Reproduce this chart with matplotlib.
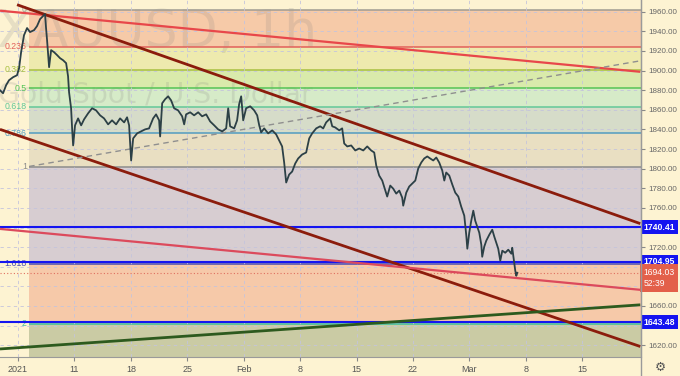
import matplotlib
matplotlib.use('Agg')
from matplotlib import pyplot as plt
from matplotlib.lines import Line2D

plt.rcParams['font.family'] = ['Liberation Sans', 'DejaVu Sans']

# XAUUSD 1h, x = trading days counted from Mon Jan 4 2021
days = [-1.60, -1.33, -1.06, -0.80, -0.44, -0.09, 0.09, 0.27, 0.53, 0.80, 1.06, 1.42, 1.68, 1.95,
        2.22, 2.39, 2.48, 2.57, 2.75, 2.93, 3.19, 3.46, 3.72, 3.99, 4.26, 4.43, 4.52, 4.70, 4.79,
        4.88, 5.05, 5.32, 5.59, 5.85, 6.21, 6.56, 6.91, 7.27, 7.62, 7.98, 8.33, 8.69, 9.04, 9.40,
        9.66, 9.84, 10.02, 10.20, 10.55, 10.90, 11.26, 11.61, 11.97, 12.23, 12.50, 12.59, 12.77,
        13.03, 13.30, 13.56, 13.83, 14.18, 14.54, 14.72, 14.89, 15.25, 15.60, 15.96, 16.31, 16.67,
        17.02, 17.38, 17.73, 18.09, 18.44, 18.62, 18.79, 19.15, 19.41, 19.59, 19.77, 19.95, 20.21,
        20.57, 20.92, 21.19, 21.37, 21.54, 21.81, 22.16, 22.52, 22.87, 23.14, 23.40, 23.58, 23.76,
        24.02, 24.29, 24.56, 24.82, 25.18, 25.53, 25.80, 26.06, 26.42, 26.77, 27.04, 27.30, 27.66,
        27.84, 28.10, 28.46, 28.72, 28.90, 29.17, 29.52, 29.88, 30.23, 30.59, 30.94, 31.29, 31.56,
        31.74, 32.00, 32.27, 32.54, 32.71, 32.98, 33.24, 33.51, 33.78, 34.04, 34.13, 34.40, 34.66,
        34.93, 35.20, 35.46, 35.73, 35.99, 36.26, 36.52, 36.79, 37.06, 37.32, 37.59, 37.77, 37.94,
        38.21, 38.48, 38.74, 39.01, 39.27, 39.54, 39.72, 39.81, 39.98, 40.16, 40.34, 40.51, 40.69,
        40.87, 41.05, 41.13, 41.31, 41.49, 41.76, 42.02, 42.20, 42.38, 42.55, 42.73, 42.91, 43.17,
        43.44, 43.71, 43.79, 43.97, 44.06, 44.15, 44.24]
price = [1880.0, 1876.9, 1885.1, 1890.2, 1893.3, 1895.3, 1902.5, 1918.8, 1936.2, 1943.4, 1939.3,
         1941.3, 1945.4, 1952.5, 1955.6, 1957.7, 1943.4, 1931.1, 1903.5, 1920.9, 1918.8, 1915.8,
         1912.7, 1910.6, 1907.6, 1894.3, 1877.9, 1861.6, 1841.1, 1823.7, 1844.2, 1851.3, 1844.2,
         1850.3, 1856.5, 1861.6, 1859.5, 1854.4, 1851.3, 1845.2, 1849.3, 1845.2, 1851.3, 1847.2,
         1852.4, 1844.2, 1808.4, 1830.9, 1836.0, 1838.0, 1840.1, 1841.1, 1851.3, 1855.4, 1849.3,
         1832.9, 1866.7, 1870.8, 1873.8, 1869.7, 1861.6, 1859.5, 1853.4, 1845.2, 1855.4, 1857.5,
         1854.4, 1857.5, 1853.4, 1855.4, 1848.2, 1844.2, 1840.1, 1838.0, 1841.1, 1861.6, 1843.2,
         1841.1, 1849.3, 1865.7, 1873.8, 1849.3, 1861.6, 1863.6, 1859.5, 1854.4, 1844.2, 1837.0,
         1841.1, 1836.0, 1839.1, 1835.0, 1828.8, 1822.7, 1806.3, 1785.9, 1794.0, 1797.1, 1805.3,
         1810.4, 1814.5, 1816.5, 1830.9, 1836.0, 1841.1, 1843.2, 1841.1, 1847.2, 1851.3, 1843.2,
         1842.1, 1839.1, 1841.1, 1825.7, 1822.7, 1823.7, 1818.6, 1820.6, 1818.6, 1822.7, 1818.6,
         1816.5, 1803.2, 1793.0, 1787.9, 1777.7, 1771.6, 1782.8, 1779.7, 1774.6, 1777.7, 1770.5,
         1762.3, 1775.6, 1781.8, 1784.8, 1787.9, 1800.2, 1806.3, 1810.4, 1812.5, 1810.4, 1808.4,
         1811.4, 1806.3, 1798.1, 1787.9, 1796.1, 1793.0, 1783.8, 1775.6, 1771.6, 1761.3, 1752.1,
         1731.7, 1718.4, 1734.7, 1747.0, 1757.2, 1747.0, 1740.9, 1734.7, 1722.5, 1710.2, 1720.5,
         1726.6, 1732.7, 1737.8, 1730.7, 1724.5, 1718.4, 1706.2, 1716.4, 1714.3, 1717.4, 1713.3,
         1719.4, 1704.1, 1695.9, 1690.8, 1693.9]

week_ticks = [0, 5, 10, 15, 20, 25, 30, 35, 40, 45, 50]
week_labels = ['2021', '11', '18', '25', 'Feb', '8', '15', '22', 'Mar', '8', '15']
price_ticks = list(range(1620, 1961, 20))

# fibonacci retracement
fib_top, fib_bottom = 1962.0, 1802.0
fib_start = 0.98
fib_levels = [0, 0.236, 0.382, 0.5, 0.618, 0.786, 1, 1.618, 2]
fib_labels = ['0', '0.236', '0.382', '0.5', '0.618', '0.786', '1', '1.618', '2']
fib_line_colors = ['#a09c92', '#e2605a', '#a8c040', '#55c455', '#62c898', '#529cc0',
                   '#8c8c8c', '#4a4cb4', '#3cc0a0']
fib_band_colors = ['#f6caa8', '#eeeaae', '#d9eaab', '#d6ebc8', '#d6dcc9', '#e9dfc2',
                   '#d7cdd1', '#f6c9a9', '#cacba4']

blue_levels = [1740.41, 1704.95, 1643.48]
last_price = 1694.03
countdown = '52:39'

# trend lines: (day0, price0), (day1, price1), colour, width, style
trend_lines = [
    ((-1.60, 1961.1), (55.14, 1898.8), '#e8474a', 1.6, '-'),
    ((-0.09, 1967.2), (55.14, 1744.0), '#8b1c0c', 2.0, '-'),
    ((-1.60, 1840.1), (55.14, 1618.7), '#8b1c0c', 2.0, '-'),
    ((-1.60, 1738.6), (55.14, 1676.5), '#dc4a5c', 1.6, '-'),
    ((-1.60, 1616.2), (55.14, 1661.2), '#2d5a1e', 2.0, '-'),
    ((0.98, 1802.3), (55.14, 1910.0), '#8f8f8f', 1.0, (0, (4, 3))),
]

bg = '#fdf3d2'
x_min, x_max = -1.6, 55.2
y_min, y_max = 1608, 1972

fig = plt.figure(figsize=(6.8, 3.76), dpi=100, facecolor=bg)
ax = fig.add_axes([0, 19 / 376, 641 / 680, 357 / 376])
ax.set_facecolor(bg)
ax.set_xlim(x_min, x_max)
ax.set_ylim(y_min, y_max)

def fib_price(level):
    return fib_top - level * (fib_top - fib_bottom)

x_frac = (fib_start - x_min) / (x_max - x_min)
band_edges = [fib_price(l) for l in fib_levels] + [y_min]
for i, col in enumerate(fib_band_colors):
    ax.axhspan(band_edges[i + 1], band_edges[i], xmin=x_frac, xmax=1, color=col, lw=0, zorder=0)
for lvl, lab, col in zip(fib_levels, fib_labels, fib_line_colors):
    p = fib_price(lvl)
    ax.hlines(p, fib_start, x_max, color=col, lw=1.1, zorder=1)
    ax.text(fib_start - 0.2, p, lab, ha='right', va='center', fontsize=6.3, color=col, zorder=2)

# grid
ax.set_xticks(week_ticks)
ax.set_xticklabels(week_labels)
ax.set_yticks(price_ticks)
ax.yaxis.set_major_formatter(matplotlib.ticker.FormatStrFormatter('%.2f'))
ax.grid(True, color='#c4c4dc', lw=0.6, ls=(0, (4, 4)))
for g in ax.get_xgridlines() + ax.get_ygridlines():
    g.set_zorder(0.5)

# watermark
ax.text(-3 / 641, 1 - 47 / 357, 'XAUUSD, 1h', transform=ax.transAxes, fontsize=37.5,
        family='DejaVu Sans', color='#7a7a7a', alpha=0.17, va='baseline', ha='left', zorder=0.7)
ax.text(-2 / 641, 1 - 103 / 357, 'Gold Spot / U.S. Dollar', transform=ax.transAxes,
        fontsize=20.3, family='DejaVu Sans', color='#7a7a7a', alpha=0.17, va='baseline',
        ha='left', zorder=0.7)

# horizontal levels
for lv in blue_levels:
    ax.axhline(lv, color='#1414f0', lw=1.5, zorder=3)
ax.axhline(last_price, color='#e07060', lw=0.8, ls=(0, (1, 2)), zorder=3)

for (d0, p0), (d1, p1), col, lw, ls in trend_lines:
    ax.plot([d0, d1], [p0, p1], color=col, lw=lw, ls=ls, zorder=4, solid_capstyle='butt')

ax.plot(days, price, color='#2c4046', lw=1.3, zorder=5)

# axes styling
for s in ['top', 'left']:
    ax.spines[s].set_visible(False)
ax.spines['right'].set_color('#9a9a9a')
ax.spines['bottom'].set_color('#9a9a9a')
ax.yaxis.tick_right()
ax.tick_params(axis='y', length=3, width=0.8, color='#888888', labelsize=5.8,
               labelcolor='#666666', pad=2)
ax.tick_params(axis='x', length=3, width=0.8, color='#888888', labelsize=6.5,
               labelcolor='#555555', pad=3)

# price badges on the right scale
for lv in blue_levels:
    ax.annotate(f'{lv:.2f}', xy=(1.004, lv), xycoords=('axes fraction', 'data'),
                ha='left', va='center', fontsize=6.2, color='white', fontweight='bold',
                bbox=dict(boxstyle='square,pad=0.3', fc='#1414f0', ec='none'),
                annotation_clip=False, zorder=10)
ax.annotate(f'{last_price:.2f}\n{countdown}', xy=(1.004, last_price - 5.5),
            xycoords=('axes fraction', 'data'), ha='left', va='center', fontsize=6.2,
            color='white', linespacing=1.35,
            bbox=dict(boxstyle='square,pad=0.4', fc='#e3604a', ec='none'),
            annotation_clip=False, zorder=10)

fig.add_artist(Line2D([641 / 680] * 2, [0, 1], transform=fig.transFigure, color='#9a9a9a', lw=1))
fig.text(660 / 680, 9 / 376, '\u2699', fontsize=9, family='DejaVu Sans', color='#555555',
         ha='center', va='center')

fig.savefig('out.png', dpi=100, facecolor=bg)
